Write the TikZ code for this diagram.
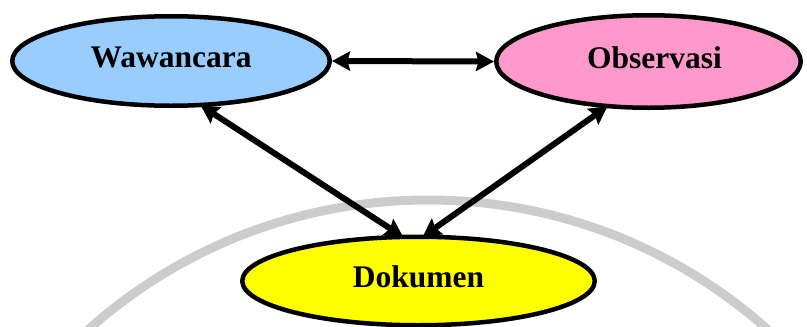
\documentclass[tikz,border=0pt]{standalone}
\usepackage{fontspec}
\setmainfont{Liberation Serif}
\usetikzlibrary{arrows.meta,shapes.geometric}

\definecolor{wawfill}{HTML}{99CCFF}
\definecolor{obsfill}{HTML}{FF99CC}
\definecolor{dokfill}{HTML}{FFFF00}
\definecolor{markgray}{HTML}{CCCCCC}

\tikzset{
  source/.style={ellipse, draw=black, line width=4.5pt, inner sep=0pt,
    font=\fontsize{31.5}{32}\selectfont\bfseries},
  link/.style={line width=6pt,
    {Stealth[length=18pt,width=19pt,inset=2.5pt]}-{Stealth[length=18pt,width=19pt,inset=2.5pt]}},
  diag/.style={link, shorten <=-3pt, shorten >=-4pt},
}
\newcommand{\lifted}[1]{\raisebox{4pt}[\height][\depth]{#1}}

\begin{document}
\begin{tikzpicture}[x=1pt,y=-1pt]
  \useasboundingbox (0,0) rectangle (807,327);

  % faint seal arc in the background
  \begin{scope}
    \clip (0,0) rectangle (807,327);
    \draw[markgray, line width=9pt] (428,710) circle [radius=510];
  \end{scope}

  % the three data sources
  \node[source, fill=wawfill, minimum width=317.5pt, minimum height=89.5pt]
    (waw) at (171,61) {\lifted{Wawancara}};
  \node[source, fill=obsfill, minimum width=304.5pt, minimum height=92.5pt]
    (obs) at (648.5,61.5) {\lifted{\hspace*{12pt}Observasi}};
  \node[source, fill=dokfill, minimum width=352.5pt, minimum height=88.5pt]
    (dok) at (418.5,281) {\lifted{Dokumen}};

  % two-way links between the sources
  \draw[link] (waw.east) -- (obs.west);
  \draw[diag] (waw.-55) -- (dok.112.5);
  \draw[diag] (obs.-133) -- (dok.81);
\end{tikzpicture}
\end{document}
